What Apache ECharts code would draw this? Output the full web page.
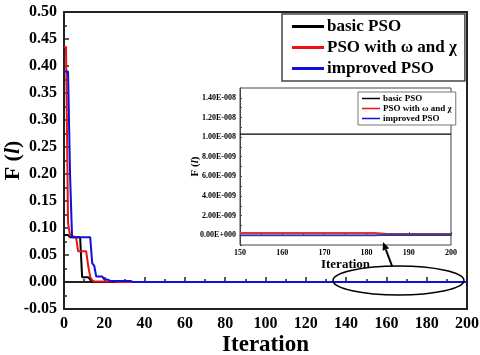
<!DOCTYPE html>
<html lang="en">
<head>
    <meta charset="UTF-8">
    <title>PSO convergence</title>
    <script src="https://cdn.jsdelivr.net/npm/echarts@6/dist/echarts.min.js"></script>
</head>
<body style="margin:0;background:#fff;">
<div id="main" style="width:480px;height:355px;"></div>
<script type="text/javascript">
    // main chart: best fitness per iteration
    var basicIter = [0, 2, 3, 8, 9, 12, 14, 200];
    var basicVal = [0.087, 0.087, 0.083, 0.083, 0.009, 0.009, 0, 0];
    var redIter = [0, 1, 2, 3, 6, 7, 11, 12, 13, 14, 15, 25, 26, 200];
    var redVal = [0.435, 0.435, 0.11, 0.086, 0.083, 0.057, 0.057, 0.03, 0.01, 0.003, 0.001, 0.001, 0, 0];
    var blueIter = [0, 2, 3, 4, 13, 14, 15, 16, 19, 20, 22, 23, 33, 34, 200];
    var blueVal = [0.39, 0.39, 0.2, 0.083, 0.083, 0.035, 0.03, 0.01, 0.01, 0.005, 0.004, 0.002, 0.002, 0, 0];

    // inset: iterations 150..200
    var insetIter = [150, 182, 185, 200];
    var insetBasic = [1.03e-8, 1.03e-8, 1.03e-8, 1.03e-8];
    var insetRed = [2.2e-10, 2.2e-10, 1.2e-10, 1.2e-10];
    var insetBlue = [0, 0, 0.8e-10, 0.8e-10];

    var names = ['basic PSO', 'PSO with \u03c9 and \u03c7', 'improved PSO'];
    var colors = ['#000000', '#ee1111', '#1010dd'];

    function pairs(xs, ys) {
        return xs.map(function (x, i) { return [x, ys[i]]; });
    }

    function sci(v) {
        if (Math.abs(v) < 1e-15) return '0.00E+000';
        var e = Math.floor(Math.log10(Math.abs(v)) + 1e-9);
        var m = v / Math.pow(10, e);
        var s = e < 0 ? '-' : '+';
        var ee = String(Math.abs(e));
        while (ee.length < 3) ee = '0' + ee;
        return m.toFixed(2) + 'E' + s + ee;
    }

    var serif = '"Liberation Serif", "Times New Roman", serif';
    var axisColor = '#222';

    var myChart = echarts.init(document.getElementById('main'));

    var option = {
        backgroundColor: '#fff',
        animation: false,
        textStyle: {fontFamily: serif},
        legend: [{
            data: names,
            orient: 'vertical',
            left: 282,
            top: 14,
            width: 178,
            padding: [4, 8, 4, 10],
            itemGap: 4,
            itemWidth: 32,
            itemHeight: 3,
            icon: 'rect',
            borderColor: '#444',
            borderWidth: 1.5,
            backgroundColor: '#fff',
            textStyle: {fontFamily: serif, fontWeight: 'bold', fontSize: 17, color: '#000', padding: [0, 0, 0, -2]}
        }, {
            data: names,
            orient: 'vertical',
            left: 358,
            top: 92,
            padding: [2, 4, 2, 4],
            itemGap: 1,
            itemWidth: 18,
            itemHeight: 1.5,
            icon: 'rect',
            borderColor: '#777',
            borderWidth: 1,
            backgroundColor: '#fff',
            z: 10,
            textStyle: {fontFamily: serif, fontWeight: 'bold', fontSize: 9, color: '#000', padding: [0, 0, 0, -2]}
        }],
        grid: [{
            left: 64, right: 13, top: 12, bottom: 46,
            outerBoundsMode: 'none', containLabel: false,
            show: true, borderColor: axisColor, borderWidth: 2
        }, {
            left: 240, right: 29, top: 88, bottom: 110,
            outerBoundsMode: 'none', containLabel: false,
            show: true, borderColor: '#444', borderWidth: 1, backgroundColor: '#fff', z: 3
        }],
        xAxis: [{
            gridIndex: 0,
            type: 'value',
            min: 0, max: 200, interval: 20,
            name: 'Iteration',
            nameLocation: 'middle',
            nameGap: 25,
            nameMoveOverlap: false,
            nameTextStyle: {fontFamily: serif, fontWeight: 'bold', fontSize: 23, color: '#000'},
            axisLine: {lineStyle: {color: axisColor, width: 2}},
            axisTick: {inside: true, length: 5, lineStyle: {color: axisColor, width: 1.5}},
            minorTick: {show: true, splitNumber: 2, length: 3, lineStyle: {color: axisColor, width: 1.5}},
            axisLabel: {fontFamily: serif, fontWeight: 'bold', fontSize: 16, color: '#000', margin: 7},
            splitLine: {show: false}
        }, {
            gridIndex: 1,
            type: 'value',
            min: 150, max: 200, interval: 10,
            name: 'Iteration',
            nameLocation: 'middle',
            nameGap: 13,
            nameMoveOverlap: false,
            nameTextStyle: {fontFamily: serif, fontWeight: 'bold', fontSize: 13, color: '#000'},
            axisLine: {lineStyle: {color: '#444', width: 1}},
            axisTick: {inside: true, length: 3, lineStyle: {color: '#444'}},
            minorTick: {show: true, splitNumber: 2, length: 2, lineStyle: {color: '#444'}},
            axisLabel: {fontFamily: serif, fontWeight: 'bold', fontSize: 8, color: '#000', margin: 4},
            splitLine: {show: false},
            z: 4
        }],
        yAxis: [{
            gridIndex: 0,
            type: 'value',
            min: -0.05, max: 0.5, interval: 0.05,
            name: 'F ({i|l})',
            nameLocation: 'middle',
            nameRotate: 90,
            nameGap: 40,
            nameMoveOverlap: false,
            nameTextStyle: {
                fontFamily: serif, fontWeight: 'bold', fontSize: 22, color: '#000',
                rich: {i: {fontFamily: serif, fontWeight: 'bold', fontStyle: 'italic', fontSize: 22, color: '#000'}}
            },
            axisLine: {lineStyle: {color: axisColor, width: 2}},
            axisTick: {inside: true, length: 5, lineStyle: {color: axisColor, width: 1.5}},
            minorTick: {show: true, splitNumber: 2, length: 3, lineStyle: {color: axisColor, width: 1.5}},
            axisLabel: {
                fontFamily: serif, fontWeight: 'bold', fontSize: 16, color: '#000', margin: 7,
                formatter: function (v) { return v.toFixed(2); }
            },
            splitLine: {show: false}
        }, {
            gridIndex: 1,
            type: 'value',
            min: -1e-9, max: 1.5e-8, interval: 1e-9,
            name: 'F ({i|l})',
            nameLocation: 'middle',
            nameRotate: 90,
            nameGap: 39,
            nameMoveOverlap: false,
            nameTextStyle: {
                fontFamily: serif, fontWeight: 'bold', fontSize: 11, color: '#000',
                rich: {i: {fontFamily: serif, fontWeight: 'bold', fontStyle: 'italic', fontSize: 11, color: '#000'}}
            },
            axisLine: {lineStyle: {color: '#444', width: 1}},
            axisTick: {inside: true, length: 2, lineStyle: {color: '#444'}},
            axisLabel: {
                fontFamily: serif, fontWeight: 'bold', fontSize: 8, color: '#000', margin: 4,
                showMaxLabel: false,
                formatter: function (v) {
                    var k = Math.round(v / 1e-9);
                    if (k < 0 || k % 2 !== 0) return '';
                    return sci(k * 1e-9);
                }
            },
            splitLine: {show: false},
            z: 4
        }],
        series: [
            {name: names[0], type: 'line', xAxisIndex: 0, yAxisIndex: 0, symbol: 'none',
                data: pairs(basicIter, basicVal), lineStyle: {width: 2, color: colors[0]}, itemStyle: {color: colors[0]}},
            {name: names[1], type: 'line', xAxisIndex: 0, yAxisIndex: 0, symbol: 'none',
                data: pairs(redIter, redVal), lineStyle: {width: 2, color: colors[1]}, itemStyle: {color: colors[1]}},
            {name: names[2], type: 'line', xAxisIndex: 0, yAxisIndex: 0, symbol: 'none',
                data: pairs(blueIter, blueVal), lineStyle: {width: 2, color: colors[2]}, itemStyle: {color: colors[2]}},
            {name: names[0], type: 'line', xAxisIndex: 1, yAxisIndex: 1, symbol: 'none', z: 6,
                data: pairs(insetIter, insetBasic), lineStyle: {width: 1.2, color: colors[0]}, itemStyle: {color: colors[0]}},
            {name: names[1], type: 'line', xAxisIndex: 1, yAxisIndex: 1, symbol: 'none', z: 6,
                data: pairs(insetIter, insetRed), lineStyle: {width: 2, color: '#dd3344'}, itemStyle: {color: colors[1]}},
            {name: names[2], type: 'line', xAxisIndex: 1, yAxisIndex: 1, symbol: 'none', z: 6,
                data: pairs(insetIter, insetBlue), lineStyle: {width: 2, color: '#3333aa', opacity: 0.85}, itemStyle: {color: colors[2]}}
        ]
    };

    myChart.setOption(option);

    // ellipse around the tail of the curves and arrow pointing up to the inset
    var p1 = myChart.convertToPixel({gridIndex: 0}, [133.5, 0.0295]);
    var p2 = myChart.convertToPixel({gridIndex: 0}, [198.5, -0.024]);
    var tail = myChart.convertToPixel({gridIndex: 0}, [162.8, 0.0296]);
    var tip = myChart.convertToPixel({gridIndex: 1}, [183.9, -7e-10]);
    var dx = tip[0] - tail[0], dy = tip[1] - tail[1];
    var len = Math.sqrt(dx * dx + dy * dy);
    var ux = dx / len, uy = dy / len;
    var hl = 8, hw = 3.5;
    var bx = tip[0] - ux * hl, by = tip[1] - uy * hl;

    myChart.setOption({
        graphic: [{
            type: 'ellipse',
            shape: {cx: (p1[0] + p2[0]) / 2, cy: (p1[1] + p2[1]) / 2, rx: (p2[0] - p1[0]) / 2, ry: (p2[1] - p1[1]) / 2},
            style: {fill: 'none', stroke: '#000', lineWidth: 1.5},
            z: 20
        }, {
            type: 'line',
            shape: {x1: tail[0], y1: tail[1], x2: bx, y2: by},
            style: {stroke: '#000', lineWidth: 2},
            z: 20
        }, {
            type: 'polygon',
            shape: {points: [[tip[0], tip[1]], [bx - uy * hw, by + ux * hw], [bx + uy * hw, by - ux * hw]]},
            style: {fill: '#000'},
            z: 20
        }]
    });
</script>
</body>
</html>
